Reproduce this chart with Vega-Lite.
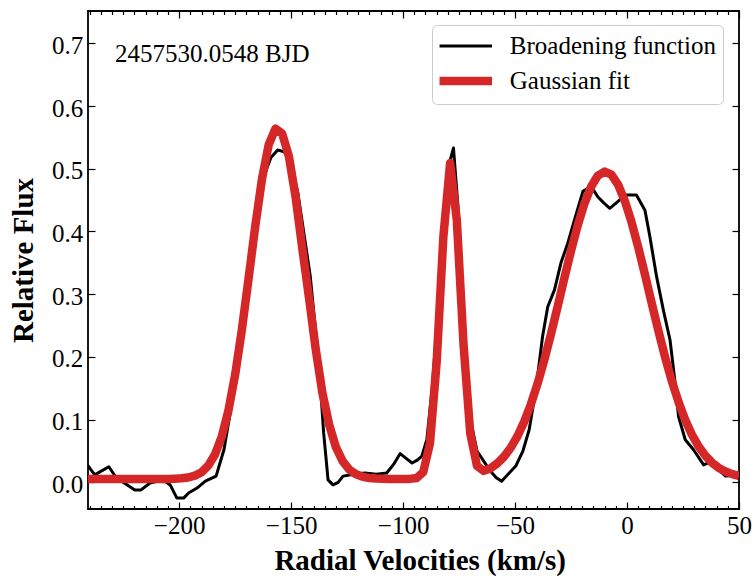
{
  "$schema": "https://vega.github.io/schema/vega-lite/v6.json",
  "width": 651,
  "height": 498,
  "autosize": {"type": "none"},
  "padding": {"left": 88, "top": 11, "right": 13, "bottom": 72},
  "background": "white",
  "datasets": {
    "bf": [
      {"v": -241, "f": 0.028}, {"v": -237.7, "f": 0.012}, {"v": -231.4, "f": 0.025}, {"v": -228, "f": 0.007},
      {"v": -224, "f": -0.002}, {"v": -219.8, "f": -0.012}, {"v": -217, "f": -0.012}, {"v": -213, "f": -0.001},
      {"v": -209.3, "f": 0.002}, {"v": -206, "f": 0.001}, {"v": -204, "f": -0.004}, {"v": -201, "f": -0.025},
      {"v": -198, "f": -0.025}, {"v": -195.8, "f": -0.017}, {"v": -192, "f": -0.009}, {"v": -188.3, "f": 0.002},
      {"v": -183.5, "f": 0.010}, {"v": -180, "f": 0.052}, {"v": -177, "f": 0.115}, {"v": -174, "f": 0.19},
      {"v": -171, "f": 0.275}, {"v": -168, "f": 0.36}, {"v": -165, "f": 0.435}, {"v": -162, "f": 0.49},
      {"v": -159, "f": 0.518}, {"v": -156, "f": 0.530}, {"v": -153, "f": 0.527}, {"v": -150, "f": 0.505},
      {"v": -147, "f": 0.462}, {"v": -144, "f": 0.39}, {"v": -141.5, "f": 0.33}, {"v": -139, "f": 0.24},
      {"v": -137, "f": 0.16}, {"v": -135.5, "f": 0.08}, {"v": -133.5, "f": 0.004}, {"v": -131.3, "f": -0.004},
      {"v": -129, "f": 0.000}, {"v": -126.8, "f": 0.010}, {"v": -122, "f": 0.013}, {"v": -117, "f": 0.015},
      {"v": -112, "f": 0.013}, {"v": -107.3, "f": 0.015}, {"v": -104, "f": 0.030}, {"v": -101.3, "f": 0.046},
      {"v": -98.5, "f": 0.038}, {"v": -96, "f": 0.031}, {"v": -93.5, "f": 0.036}, {"v": -91.6, "f": 0.042},
      {"v": -89.4, "f": 0.068}, {"v": -87, "f": 0.15}, {"v": -84.5, "f": 0.27}, {"v": -82, "f": 0.40},
      {"v": -80, "f": 0.50}, {"v": -77.5, "f": 0.533}, {"v": -75.5, "f": 0.44}, {"v": -73, "f": 0.26},
      {"v": -70.5, "f": 0.11}, {"v": -67, "f": 0.05}, {"v": -64, "f": 0.034}, {"v": -61.5, "f": 0.020},
      {"v": -58.5, "f": 0.008}, {"v": -56, "f": 0.002}, {"v": -52.6, "f": 0.015}, {"v": -49.7, "f": 0.026},
      {"v": -46.5, "f": 0.05}, {"v": -43.7, "f": 0.084}, {"v": -40.7, "f": 0.148}, {"v": -37.7, "f": 0.233},
      {"v": -35.4, "f": 0.280}, {"v": -32.4, "f": 0.307}, {"v": -29.5, "f": 0.350}, {"v": -26.5, "f": 0.381},
      {"v": -23.5, "f": 0.418}, {"v": -19.7, "f": 0.464}, {"v": -16, "f": 0.472}, {"v": -13, "f": 0.455},
      {"v": -10.5, "f": 0.446}, {"v": -7.7, "f": 0.437}, {"v": -4, "f": 0.448}, {"v": -1, "f": 0.458},
      {"v": 4.2, "f": 0.458}, {"v": 8, "f": 0.434}, {"v": 10.2, "f": 0.392}, {"v": 13.2, "f": 0.328},
      {"v": 16.2, "f": 0.275}, {"v": 19.2, "f": 0.227}, {"v": 21.5, "f": 0.158}, {"v": 23, "f": 0.105},
      {"v": 26, "f": 0.068}, {"v": 29.7, "f": 0.052}, {"v": 34.2, "f": 0.028}, {"v": 38, "f": 0.034},
      {"v": 41, "f": 0.020}, {"v": 44, "f": 0.010}, {"v": 47, "f": 0.011}, {"v": 50, "f": 0.015}
    ],
    "fit": [
      {"v": -241, "f": 0.0055}, {"v": -238, "f": 0.0055}, {"v": -235, "f": 0.0055}, {"v": -232, "f": 0.0055},
      {"v": -229, "f": 0.0055}, {"v": -226, "f": 0.0055}, {"v": -223, "f": 0.0055}, {"v": -220, "f": 0.0055},
      {"v": -217, "f": 0.0055}, {"v": -214, "f": 0.0055}, {"v": -211, "f": 0.0055}, {"v": -208, "f": 0.0055},
      {"v": -205, "f": 0.0055}, {"v": -202, "f": 0.0059}, {"v": -199, "f": 0.0065}, {"v": -196, "f": 0.0078},
      {"v": -193, "f": 0.0107}, {"v": -190, "f": 0.0163}, {"v": -187, "f": 0.0267}, {"v": -184, "f": 0.0445},
      {"v": -181, "f": 0.0727}, {"v": -178, "f": 0.1145}, {"v": -175, "f": 0.1715}, {"v": -172, "f": 0.2430},
      {"v": -169, "f": 0.3248}, {"v": -166, "f": 0.4087}, {"v": -163, "f": 0.4838}, {"v": -160, "f": 0.5386},
      {"v": -157, "f": 0.5640}, {"v": -154, "f": 0.5560}, {"v": -151, "f": 0.5200}, {"v": -148, "f": 0.4550},
      {"v": -145, "f": 0.3730}, {"v": -142, "f": 0.2940}, {"v": -139, "f": 0.2120}, {"v": -136, "f": 0.1420},
      {"v": -133, "f": 0.0920}, {"v": -130, "f": 0.0561}, {"v": -127, "f": 0.0339}, {"v": -124, "f": 0.0204},
      {"v": -121, "f": 0.0129}, {"v": -118, "f": 0.0089}, {"v": -115, "f": 0.0070}, {"v": -112, "f": 0.0061},
      {"v": -109, "f": 0.0057}, {"v": -106, "f": 0.0055}, {"v": -103, "f": 0.0055}, {"v": -100, "f": 0.0055},
      {"v": -97, "f": 0.0056}, {"v": -94, "f": 0.0069}, {"v": -91, "f": 0.0164}, {"v": -88, "f": 0.0622},
      {"v": -85, "f": 0.1922}, {"v": -82, "f": 0.3922}, {"v": -79, "f": 0.5090}, {"v": -76, "f": 0.4180},
      {"v": -73, "f": 0.2194}, {"v": -70, "f": 0.0782}, {"v": -67, "f": 0.0265}, {"v": -64, "f": 0.0184},
      {"v": -61, "f": 0.0223}, {"v": -58, "f": 0.0301}, {"v": -55, "f": 0.0407}, {"v": -52, "f": 0.0549},
      {"v": -49, "f": 0.0732}, {"v": -46, "f": 0.0961}, {"v": -43, "f": 0.1239}, {"v": -40, "f": 0.1568},
      {"v": -37, "f": 0.1944}, {"v": -34, "f": 0.2359}, {"v": -31, "f": 0.2801}, {"v": -28, "f": 0.3253},
      {"v": -25, "f": 0.3694}, {"v": -22, "f": 0.4100}, {"v": -19, "f": 0.4449}, {"v": -16, "f": 0.4718},
      {"v": -13, "f": 0.4891}, {"v": -10, "f": 0.4955}, {"v": -7, "f": 0.4906}, {"v": -4, "f": 0.4747},
      {"v": -1, "f": 0.4489}, {"v": 2, "f": 0.4150}, {"v": 5, "f": 0.3750}, {"v": 8, "f": 0.3313},
      {"v": 11, "f": 0.2861}, {"v": 14, "f": 0.2417}, {"v": 17, "f": 0.1997}, {"v": 20, "f": 0.1616},
      {"v": 23, "f": 0.1281}, {"v": 26, "f": 0.0995}, {"v": 29, "f": 0.0760}, {"v": 32, "f": 0.0571},
      {"v": 35, "f": 0.0424}, {"v": 38, "f": 0.0313}, {"v": 41, "f": 0.0231}, {"v": 44, "f": 0.0173},
      {"v": 47, "f": 0.0132}, {"v": 50, "f": 0.0104}
    ],
    "note": [
      {"v": -228.6, "f": 0.6702, "label": "2457530.0548 BJD"}
    ]
  },
  "layer": [
    {
      "data": {"name": "bf"},
      "transform": [{"calculate": "'Broadening function'", "as": "series"}],
      "mark": {"type": "line", "clip": true, "strokeJoin": "round"},
      "encoding": {
        "x": {
          "field": "v", "type": "quantitative",
          "scale": {"domain": [-240.7, 50], "nice": false, "zero": false},
          "axis": {
            "orient": "bottom",
            "values": [-240,-235,-230,-225,-220,-215,-210,-205,-200,-195,-190,-185,-180,-175,-170,-165,-160,-155,-150,-145,-140,-135,-130,-125,-120,-115,-110,-105,-100,-95,-90,-85,-80,-75,-70,-65,-60,-55,-50,-45,-40,-35,-30,-25,-20,-15,-10,-5,0,5,10,15,20,25,30,35,40,45,50],
            "format": "d",
            "tickSize": {"condition": {"test": "datum.value % 50 === 0", "value": -7}, "value": -3.5},
            "labelExpr": "datum.value % 50 === 0 ? datum.label : ''",
            "labelOverlap": false,
            "labelFlush": false,
            "labelBaseline": "alphabetic",
            "labelPadding": 31.7,
            "title": "Radial Velocities (km/s)",
            "titleX": 331.7,
            "titleY": 60,
            "titleAlign": "center",
            "titleBaseline": "alphabetic"
          }
        },
        "y": {
          "field": "f", "type": "quantitative",
          "scale": {"domain": [-0.0424, 0.7515], "nice": false, "zero": false},
          "axis": {
            "orient": "left",
            "values": [0, 0.1, 0.2, 0.3, 0.4, 0.5, 0.6, 0.7],
            "format": ".1f",
            "tickSize": -7,
            "labelPadding": 12.3,
            "labelBaseline": "alphabetic",
            "labelOffset": 10,
            "title": "Relative Flux",
            "titleX": -56,
            "titleY": 249,
            "titleAngle": 270,
            "titleAlign": "center",
            "titleBaseline": "alphabetic"
          }
        },
        "color": {
          "field": "series", "type": "nominal",
          "scale": {"domain": ["Broadening function", "Gaussian fit"], "range": ["#000000", "#d62728"]},
          "legend": {
            "orient": "none", "legendX": 344, "legendY": 14, "title": null,
            "padding": 6, "strokeColor": "#cccccc", "fillColor": "white", "cornerRadius": 5,
            "symbolType": "M-1.22,0H2.67", "symbolSize": 729,
            "labelFont": "Liberation Serif", "labelFontSize": 25, "labelColor": "black", "labelLimit": 0,
            "labelOffset": 35.8, "rowPadding": 4, "labelBaseline": "middle"
          }
        },
        "strokeWidth": {
          "field": "series", "type": "nominal",
          "scale": {"domain": ["Broadening function", "Gaussian fit"], "range": [3, 8.5]},
          "legend": {
            "orient": "none", "legendX": 344, "legendY": 14, "title": null,
            "padding": 6, "strokeColor": "#cccccc", "fillColor": "white", "cornerRadius": 5,
            "symbolType": "M-1.22,0H2.67", "symbolSize": 729,
            "labelFont": "Liberation Serif", "labelFontSize": 25, "labelColor": "black", "labelLimit": 0,
            "labelOffset": 35.8, "rowPadding": 4, "labelBaseline": "middle"
          }
        }
      }
    },
    {
      "data": {"name": "fit"},
      "transform": [{"calculate": "'Gaussian fit'", "as": "series"}],
      "mark": {"type": "line", "clip": true, "strokeJoin": "round"},
      "encoding": {
        "x": {
          "field": "v", "type": "quantitative",
          "axis": {
            "orient": "top",
            "values": [-240,-235,-230,-225,-220,-215,-210,-205,-200,-195,-190,-185,-180,-175,-170,-165,-160,-155,-150,-145,-140,-135,-130,-125,-120,-115,-110,-105,-100,-95,-90,-85,-80,-75,-70,-65,-60,-55,-50,-45,-40,-35,-30,-25,-20,-15,-10,-5,0,5,10,15,20,25,30,35,40,45,50],
            "tickSize": {"condition": {"test": "datum.value % 50 === 0", "value": -7}, "value": -3.5},
            "labels": false,
            "title": null
          }
        },
        "y": {
          "field": "f", "type": "quantitative",
          "axis": {
            "orient": "right",
            "values": [0, 0.1, 0.2, 0.3, 0.4, 0.5, 0.6, 0.7],
            "tickSize": -7,
            "labels": false,
            "title": null
          }
        },
        "color": {"field": "series", "type": "nominal"},
        "strokeWidth": {"field": "series", "type": "nominal"}
      }
    },
    {
      "data": {"name": "note"},
      "mark": {"type": "text", "align": "left", "baseline": "alphabetic", "font": "Liberation Serif", "fontSize": 25, "color": "black"},
      "encoding": {
        "x": {"field": "v", "type": "quantitative", "axis": null},
        "y": {"field": "f", "type": "quantitative", "axis": null},
        "text": {"field": "label"}
      }
    }
  ],
  "resolve": {"axis": {"x": "independent", "y": "independent"}},
  "config": {
    "view": {"stroke": "black", "strokeWidth": 1.8},
    "font": "Liberation Serif",
    "axis": {
      "domain": false,
      "grid": false,
      "tickColor": "black",
      "tickWidth": 1.2,
      "labelColor": "black",
      "labelFont": "Liberation Serif",
      "labelFontSize": 25,
      "titleFont": "Liberation Serif",
      "titleFontSize": 29,
      "titleFontWeight": "bold",
      "titleColor": "black"
    }
  }
}
